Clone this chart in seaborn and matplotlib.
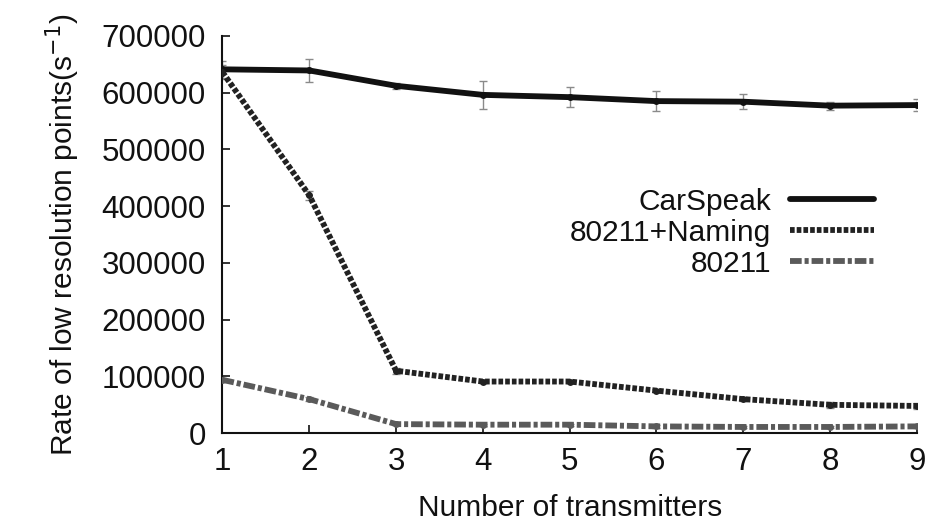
import matplotlib
matplotlib.use("Agg")
import matplotlib.pyplot as plt
import numpy as np
import pandas as pd
import seaborn as sns

# values
transmitters = [1, 2, 3, 4, 5, 6, 7, 8, 9]
carspeak = [641000, 639000, 612000, 596000, 592000, 585000, 584000, 577000, 578000]
carspeak_err = [15000, 21000, 5000, 25000, 18000, 18000, 13000, 7000, 10000]
naming = [636000, 419000, 110000, 91000, 91000, 75000, 60000, 50000, 48000]
naming_err = [12000, 8000, 5000, 3000, 3000, 3000, 4000, 5000, 5000]
plain = [94000, 60000, 16000, 15000, 15000, 12000, 11000, 11000, 12000]
plain_err = [3000, 3000, 2000, 2000, 2000, 2000, 2000, 2000, 2000]

series_names = ["CarSpeak", "80211+Naming", "80211"]
y_ticks = [0, 100000, 200000, 300000, 400000, 500000, 600000, 700000]

sns.set_theme(style="ticks")
plt.rcParams["font.family"] = ["Liberation Sans", "DejaVu Sans"]

df = pd.DataFrame({
    "x": transmitters * 3,
    "y": carspeak + naming + plain,
    "series": np.repeat(series_names, len(transmitters)),
})

fig, ax = plt.subplots(figsize=(9.27, 5.27), dpi=100)

# error bars first so the lines sit on top
for vals, errs in [(carspeak, carspeak_err), (naming, naming_err), (plain, plain_err)]:
    ax.errorbar(transmitters, vals, yerr=errs, fmt="none", ecolor="#8a8a8a",
                elinewidth=1.0, capsize=3, capthick=1.0, zorder=1)

sns.lineplot(
    data=df, x="x", y="y", hue="series", style="series",
    hue_order=series_names, style_order=series_names,
    palette=["#111111", "#222222", "#5a5a5a"],
    dashes=[(None, None), (0.8, 0.35), (2.0, 0.5, 0.7, 0.5)],
    markers=["o", "o", "o"], markersize=5, markeredgewidth=0,
    linewidth=4.2, ax=ax, zorder=3,
)

ax.set_xlim(1, 9)
ax.set_ylim(0, 700000)
ax.set_xticks(transmitters)
ax.set_yticks(y_ticks)
ax.set_yticklabels([str(t) for t in y_ticks])
ax.tick_params(direction="in", length=6, width=1.2, labelsize=22.5, pad=12, colors="#111111")
ax.tick_params(axis="x", pad=10)
for side in ["top", "right"]:
    ax.spines[side].set_visible(False)
for side in ["left", "bottom"]:
    ax.spines[side].set_linewidth(1.5)
    ax.spines[side].set_color("#111111")

ax.set_xlabel("Number of transmitters", fontsize=21.5, labelpad=12, color="#111111")
ax.set_ylabel("Rate of low resolution points(s$^{-1}$)", fontsize=21.5, labelpad=14, color="#111111")

# gnuplot-style key: text right-aligned, sample line after it
leg = ax.legend(loc="upper right", bbox_to_anchor=(0.96, 0.655), frameon=False,
                markerfirst=False, fontsize=21.5, handlelength=2.8,
                handletextpad=0.65, labelspacing=0.1, borderpad=0)
for txt in leg.get_texts():
    txt.set_color("#111111")
for h in leg.legend_handles:
    h.set_marker("")
    h.set_linewidth(4.2)

fig.subplots_adjust(left=0.24, right=0.989, bottom=0.178, top=0.932)
fig.savefig("out.png", dpi=100)
